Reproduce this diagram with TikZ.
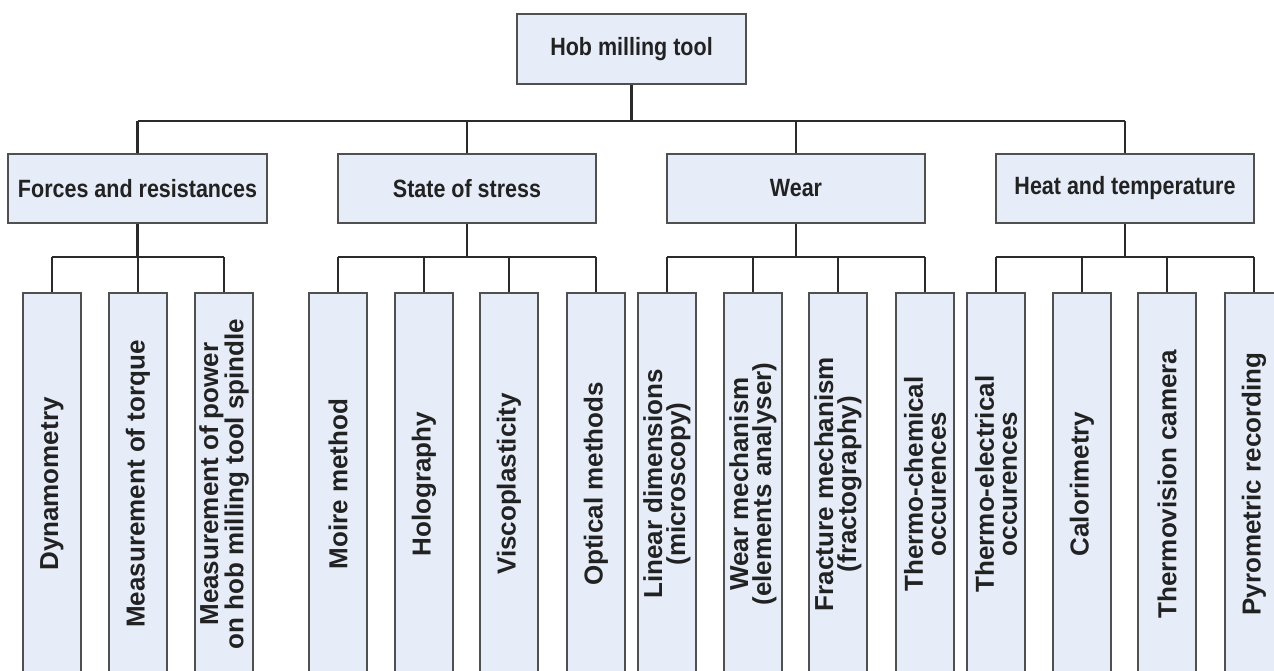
\documentclass[tikz,border=0pt]{standalone}
\usepackage{fontspec}
\setmainfont{Liberation Sans}
\newfontfamily\hfont[FakeStretch=0.86]{Liberation Sans}
\definecolor{boxfill}{HTML}{E6EDF8}
\definecolor{boxline}{HTML}{505050}
\definecolor{connline}{HTML}{2A2A2A}
\definecolor{txt}{HTML}{222222}
\begin{document}
\begin{tikzpicture}[x=1pt,y=-1pt,
  hbox/.style={draw=boxline, line width=1.5pt, fill=boxfill, inner sep=0pt,
    text=txt, font=\hfont\bfseries\fontsize{25}{30}\selectfont},
  leaf/.style={draw=boxline, line width=1.5pt, fill=boxfill, inner sep=0pt,
    rotate=90, minimum width=382pt, minimum height=58pt, align=center,
    text=txt, font=\bfseries\fontsize{26}{23}\selectfont},
  conn/.style={draw=connline, line width=2.2pt}]
\useasboundingbox (0,0) rectangle (1274,671);
\fill[white] (0,0) rectangle (1274,671);

% root
\node[hbox, minimum width=229pt, minimum height=70pt] (root) at (631.5,49) {Hob milling tool};

% level 2
\node[hbox, minimum width=259pt, minimum height=69pt] (f) at (137.5,188.5) {Forces and resistances};
\node[hbox, minimum width=258pt, minimum height=69pt] (s) at (467,188.5) {State of stress};
\node[hbox, minimum width=258pt, minimum height=69pt] (w) at (796,188.5) {Wear};
\node[hbox, minimum width=258pt, minimum height=69pt] (h) at (1125,188.5) {Heat and temperature};

% leaves
\node[leaf] (f1) at (52,484) {Dynamometry};
\node[leaf] (f2) at (138,484) {Measurement of torque};
\node[leaf] (f3) at (224,484) {Measurement of power\\on hob milling tool spindle};
\node[leaf] (s1) at (338,484) {Moire method};
\node[leaf] (s2) at (424,484) {Holography};
\node[leaf] (s3) at (509,484) {Viscoplasticity};
\node[leaf] (s4) at (596,484) {Optical methods};
\node[leaf] (w1) at (667,484) {Linear dimensions\\(microscopy)};
\node[leaf] (w2) at (753,484) {Wear mechanism\\(elements analyser)};
\node[leaf] (w3) at (838,484) {Fracture mechanism\\(fractography)};
\node[leaf] (w4) at (925,484) {Thermo-chemical\\occurences};
\node[leaf] (h1) at (996,484) {Thermo-electrical\\occurences};
\node[leaf] (h2) at (1082,484) {Calorimetry};
\node[leaf] (h3) at (1167,484) {Thermovision camera};
\node[leaf] (h4) at (1254,484) {Pyrometric recording};

% bus coordinates
\coordinate (bus) at (0,121);
\coordinate (sb) at (0,257);

% top level connectors
\draw[conn] (root.south) -- (root.south |- bus);
\draw[conn] (f.north |- bus) -- (h.north |- bus);
\foreach \n in {f,s,w,h} \draw[conn] (\n.north) -- (\n.north |- bus);

% sub-trees
\draw[conn] (f.south) -- (f.south |- sb);
\draw[conn] (f1.east |- sb) -- (f3.east |- sb);
\foreach \n in {f1,f2,f3} \draw[conn] (\n.east) -- (\n.east |- sb);

\draw[conn] (s.south) -- (s.south |- sb);
\draw[conn] (s1.east |- sb) -- (s4.east |- sb);
\foreach \n in {s1,s2,s3,s4} \draw[conn] (\n.east) -- (\n.east |- sb);

\draw[conn] (w.south) -- (w.south |- sb);
\draw[conn] (w1.east |- sb) -- (w4.east |- sb);
\foreach \n in {w1,w2,w3,w4} \draw[conn] (\n.east) -- (\n.east |- sb);

\draw[conn] (h.south) -- (h.south |- sb);
\draw[conn] (h1.east |- sb) -- (h4.east |- sb);
\foreach \n in {h1,h2,h3,h4} \draw[conn] (\n.east) -- (\n.east |- sb);
\end{tikzpicture}
\end{document}
